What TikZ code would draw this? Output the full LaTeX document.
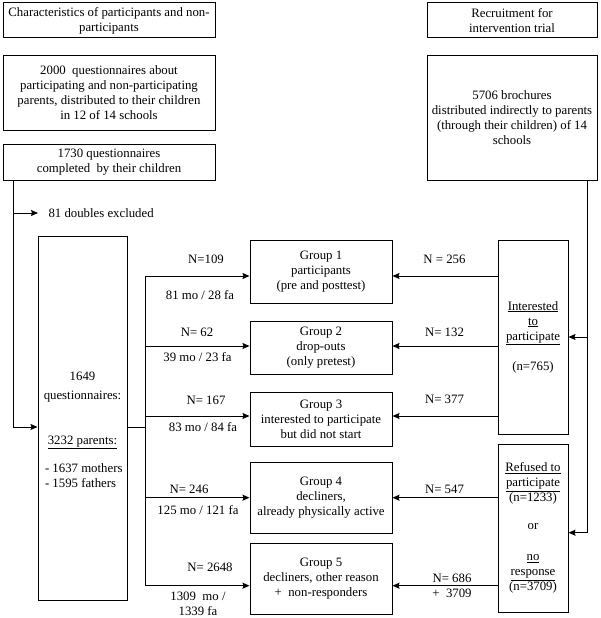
\documentclass[tikz,border=0pt]{standalone}
\usepackage{fontspec}
\setmainfont{Liberation Serif}
\usetikzlibrary{arrows.meta}
\begin{document}
\begin{tikzpicture}[>={Stealth[length=7pt,width=6pt,inset=1pt]}, x=1pt, y=-1pt, line width=1pt, color=black,
  box/.style={draw, align=center, inner sep=0pt, font=\fontsize{12.8}{15}\selectfont},
  lbl/.style={align=center, inner sep=1pt, font=\fontsize{12.8}{15}\selectfont}]
\useasboundingbox (0,0) rectangle (600,618);
\node[box, minimum width=212pt, minimum height=35pt] (charact) at (109,20.5) {Characteristics of participants and non-\\participants};
\node[box, minimum width=212pt, minimum height=74pt] (quest) at (109,93) {2000\ \ questionnaires about\\participating and non-participating\\parents, distributed to their children\\in 12 of 14 schools};
\node[box, minimum width=212pt, minimum height=36pt] (compl) at (109,162) {1730 questionnaires\\completed\ \ by their children};
\node[box, minimum width=170pt, minimum height=35pt] (recruit) at (512,20.5) {Recruitment for\\intervention trial};
\node[box, minimum width=170pt, minimum height=124pt] (broch) at (512,118) {5706 brochures\\distributed indirectly to parents\\(through their children) of 14\\schools};
\node[box, minimum width=89pt, minimum height=364pt] (total) at (82.5,418) {};
\node[lbl] (totaltxt) at (82.5,429.5) {1649\\[4pt]questionnaires:\\[30pt]\underline{3232 parents:}\\[13pt]\makebox[75pt][l]{- 1637 mothers}\\\makebox[75pt][l]{- 1595 fathers}};
\node[box, minimum width=142pt, minimum height=63pt] (g1) at (321,271.5) {Group 1\\participants\\(pre and posttest)};
\node[box, minimum width=142pt, minimum height=53pt] (g2) at (321,347.5) {Group 2\\drop-outs\\(only pretest)};
\node[box, minimum width=142pt, minimum height=54pt] (g3) at (321,419) {Group 3\\interested to participate\\but did not start};
\node[box, minimum width=142pt, minimum height=71pt] (g4) at (321,497.5) {Group 4\\decliners,\\already physically active};
\node[box, minimum width=142pt, minimum height=71pt] (g5) at (321,578.5) {Group 5\\decliners, other reason\\+\ \ non-responders};
\node[box, minimum width=70pt, minimum height=194pt] (inter) at (533,337) {\underline{Interested}\\\underline{to}\\\underline{participate}\\[15pt](n=765)};
\node[box, minimum width=70pt, minimum height=168pt] (refused) at (533,528) {\underline{Refused to}\\\underline{participate}\\(n=1233)\\[13pt]or\\[16pt]\underline{no}\\\underline{response}\\(n=3709)};
\node[lbl, anchor=west, inner xsep=10pt] (excl) at (38,213) {81 doubles excluded};
\coordinate (stem) at (13,427);
\coordinate (fork) at (145,427);
\coordinate (rstem) at (587,532.7);
\coordinate (trunktop) at (145,276);
\coordinate (trunkbot) at (145,585.7);
\draw[->] (compl.south -| stem) -- (stem) -- (total.west |- stem);
\draw[->] (excl.west -| stem) -- (excl.west);
\draw (total.east |- fork) -- (fork);
\draw (trunktop) -- (trunkbot);
\draw[->] (broch.south -| rstem) -- (rstem) -- (refused.east |- rstem);
\draw[->] (inter.east -| rstem) -- (inter.east);
\foreach \g/\y/\s in {1/276/inter,2/346/inter,3/416/inter,4/497.7/refused,5/585.7/refused}
  {
  \coordinate (row) at (0,\y);
  \draw[->] (fork |- row) -- (g\g.west |- row);
  \draw[->] (\s.west |- row) -- (g\g.east |- row);
  }
\node[lbl] (n1) at (206,259) {N=109};
\node[lbl] (m1) at (200,295) {81 mo / 28 fa};
\node[lbl] (n2) at (197,332) {N= 62};
\node[lbl] (m2) at (197.5,357) {39 mo / 23 fa};
\node[lbl] (n3) at (206,400) {N= 167};
\node[lbl] (m3) at (203,427) {83 mo / 84 fa};
\node[lbl] (n4) at (189,489) {N= 246};
\node[lbl] (m4) at (198,510) {125 mo / 121 fa};
\node[lbl] (n5) at (210,567) {N= 2648};
\node[lbl] (m5) at (198,603.5) {1309\ \ mo /\\1339 fa};
\node[lbl] (k1) at (444.5,259) {N = 256};
\node[lbl] (k2) at (444.5,332) {N= 132};
\node[lbl] (k3) at (444.5,399) {N= 377};
\node[lbl] (k4) at (444.5,489) {N= 547};
\node[lbl] (k5) at (452,585.5) {N= 686\\+\ \ 3709};
\end{tikzpicture}
\end{document}
